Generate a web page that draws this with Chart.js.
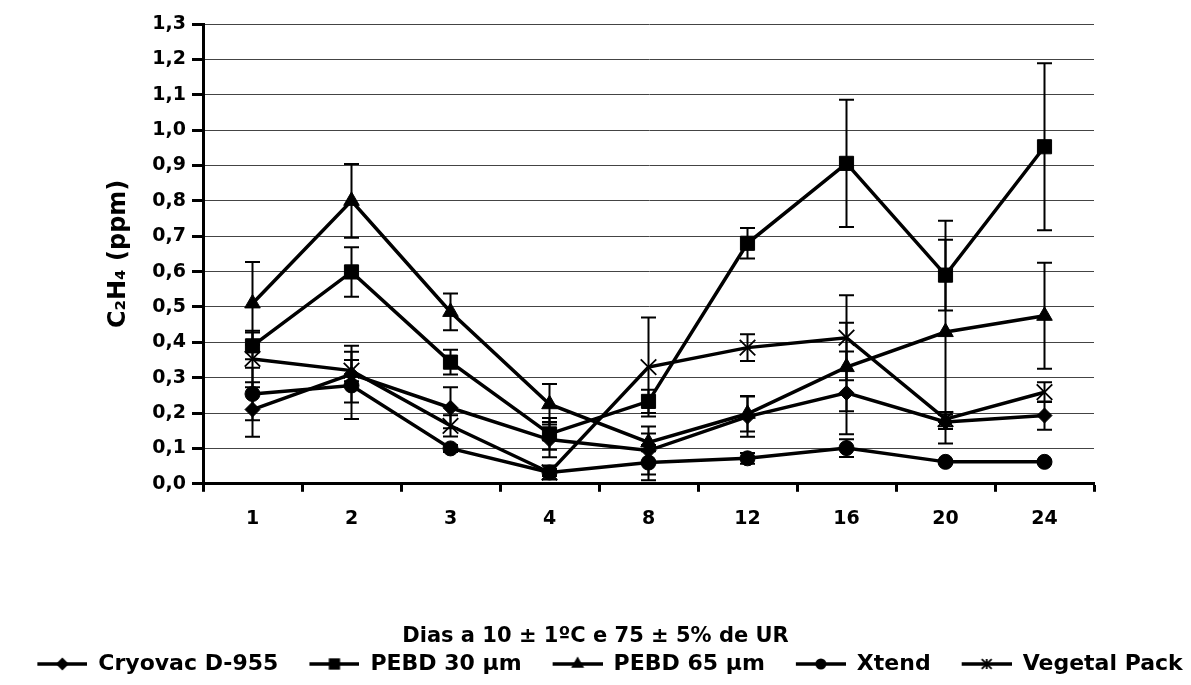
<!DOCTYPE html>
<html>
<head>
<meta charset="utf-8">
<script src="https://cdn.jsdelivr.net/npm/chart.js@4.4.1/dist/chart.umd.min.js"></script>
<style>
html,body{margin:0;padding:0;background:#fff;}
#wrap{width:1191px;height:685px;position:relative;}
</style>
</head>
<body>
<div id="wrap"><canvas id="c" width="1191" height="685"></canvas></div>
<script>
const categories = ['1','2','3','4','8','12','16','20','24'];
const seriesNames = ['Cryovac D-955','PEBD 30 µm','PEBD 65 µm','Xtend','Vegetal Pack'];
const cryovac    = [0.21, 0.31, 0.215, 0.125, 0.094, 0.19, 0.257, 0.175, 0.193];
const cryovacErr = [0.077, 0.08, 0.058, 0.05, 0.068, 0.057, 0.117, 0.02, 0.04];
const pebd30     = [0.39, 0.599, 0.344, 0.141, 0.233, 0.68, 0.906, 0.59, 0.953];
const pebd30Err  = [0.038, 0.07, 0.035, 0.045, 0.033, 0.043, 0.18, 0.1, 0.236];
const pebd65     = [0.51, 0.80, 0.486, 0.225, 0.117, 0.198, 0.33, 0.429, 0.475];
const pebd65Err  = [0.117, 0.104, 0.052, 0.057, 0.025, 0.05, 0.125, 0.315, 0.15];
const xtend      = [0.254, 0.278, 0.10, 0.032, 0.06, 0.072, 0.101, 0.062, 0.062];
const xtendErr   = [0.074, 0.095, 0.01, 0.01, 0.05, 0.015, 0.025, 0.005, 0.005];
const vegetal    = [0.353, 0.32, 0.164, 0.032, 0.33, 0.385, 0.413, 0.183, 0.259];
const vegetalErr = [0.08, 0.03, 0.03, 0.02, 0.14, 0.038, 0.12, 0.02, 0.028];
const yTitle = 'C\u2082H\u2084 (ppm)';
const xTitle = 'Dias a 10 \u00b1 1\u00baC e 75 \u00b1 5% de UR';

const values = [cryovac, pebd30, pebd65, xtend, vegetal];
const errors = [cryovacErr, pebd30Err, pebd65Err, xtendErr, vegetalErr];
const styles = ['rectRot','rect','triangle','circle','crossRot'];
const radii = [7.5, 10, 9, 7.5, 11];

const FONT = 'DejaVu Sans';
Chart.defaults.font.family = FONT;
Chart.defaults.font.weight = 'bold';
Chart.defaults.color = '#000';

function drawMarker(ctx, style, x, y, r) {
  ctx.beginPath();
  if (style === 'rectRot') {
    ctx.moveTo(x, y - r); ctx.lineTo(x + r, y); ctx.lineTo(x, y + r); ctx.lineTo(x - r, y); ctx.closePath(); ctx.fill();
  } else if (style === 'rect') {
    const s = r * Math.SQRT1_2; ctx.rect(x - s, y - s, 2 * s, 2 * s); ctx.fill();
  } else if (style === 'triangle') {
    ctx.moveTo(x, y - r); ctx.lineTo(x + r * 0.866, y + r * 0.5); ctx.lineTo(x - r * 0.866, y + r * 0.5); ctx.closePath(); ctx.fill();
  } else if (style === 'circle') {
    ctx.arc(x, y, r, 0, Math.PI * 2); ctx.fill();
  } else {
    const s = r * Math.SQRT1_2;
    ctx.lineWidth = 1.8;
    ctx.moveTo(x - s, y - s); ctx.lineTo(x + s, y + s);
    ctx.moveTo(x + s, y - s); ctx.lineTo(x - s, y + s);
    ctx.moveTo(x, y - s); ctx.lineTo(x, y + s);
    ctx.stroke();
  }
}

const ICON_W = 79, LINE_W = 50;
function makeIcon(style, r) {
  const c = document.createElement('canvas');
  c.width = ICON_W; c.height = 24;
  const ctx = c.getContext('2d');
  ctx.fillStyle = '#000'; ctx.strokeStyle = '#000';
  ctx.lineWidth = 3.5;
  ctx.beginPath(); ctx.moveTo(ICON_W - LINE_W, 12); ctx.lineTo(ICON_W, 12); ctx.stroke();
  drawMarker(ctx, style, ICON_W - LINE_W / 2, 12, r);
  return c;
}
const icons = styles.map((s, i) => makeIcon(s, [6.5, 8, 7.5, 5.5, 7][i]));

const errorBars = {
  id: 'errorBars',
  beforeDatasetsDraw(chart) {
    const ctx = chart.ctx;
    const ys = chart.scales.y;
    ctx.save();
    ctx.strokeStyle = '#000';
    ctx.lineWidth = 2;
    chart.data.datasets.forEach((ds, i) => {
      const meta = chart.getDatasetMeta(i);
      meta.data.forEach((pt, j) => {
        const v = ds.data[j], e = errors[i][j];
        const yt = ys.getPixelForValue(v + e), yb = ys.getPixelForValue(v - e);
        ctx.beginPath();
        ctx.moveTo(pt.x, yt); ctx.lineTo(pt.x, yb);
        ctx.moveTo(pt.x - 7.5, yt); ctx.lineTo(pt.x + 7.5, yt);
        ctx.moveTo(pt.x - 7.5, yb); ctx.lineTo(pt.x + 7.5, yb);
        ctx.stroke();
      });
    });
    ctx.restore();
  }
};

const datasets = seriesNames.map((name, i) => ({
  label: name,
  data: values[i],
  yAxisID: 'y',
  borderColor: '#000',
  backgroundColor: '#000',
  borderWidth: 3.5,
  pointStyle: styles[i],
  pointRadius: radii[i],
  pointHoverRadius: radii[i],
  pointBackgroundColor: '#000',
  pointBorderColor: '#000',
  pointBorderWidth: styles[i] === 'crossRot' ? 1.8 : 1,
  tension: 0,
  fill: false
}));

new Chart(document.getElementById('c'), {
  type: 'line',
  data: { labels: categories, datasets },
  plugins: [errorBars],
  options: {
    responsive: false,
    animation: false,
    devicePixelRatio: 1,
    layout: { padding: { top: 24, right: 0, left: 0, bottom: 0 } },
    plugins: {
      tooltip: { enabled: false },
      legend: {
        display: true,
        position: 'bottom',
        title: {
          display: true,
          text: xTitle,
          color: '#000',
          font: { family: FONT, size: 21, weight: 'bold' },
          padding: { top: 2, bottom: 0 }
        },
        labels: {
          usePointStyle: true,
          pointStyleWidth: ICON_W,
          padding: 2,
          color: '#000',
          font: { family: FONT, size: 22, weight: 'bold' },
          generateLabels(chart) {
            return chart.data.datasets.map((ds, i) => ({
              text: ds.label,
              pointStyle: icons[i],
              fillStyle: '#000',
              strokeStyle: '#000',
              lineWidth: 0,
              hidden: false,
              datasetIndex: i,
              fontColor: '#000'
            }));
          }
        }
      }
    },
    scales: {
      x: {
        type: 'category',
        offset: true,
        afterFit(scale) { scale.height = 140; },
        grid: {
          offset: true,
          drawOnChartArea: false,
          drawTicks: true,
          tickLength: 8,
          tickWidth: 3,
          tickColor: '#000'
        },
        border: { display: true, color: '#000', width: 3 },
        ticks: {
          padding: 16,
          color: '#000',
          font: { family: FONT, size: 19, weight: 'bold' },
          maxRotation: 0
        }
      },
      y: {
        position: 'left',
        min: 0,
        max: 1.3,
        afterFit(scale) { scale.width = 203; },
        ticks: {
          stepSize: 0.1,
          padding: 6,
          color: '#000',
          font: { family: FONT, size: 19, weight: 'bold' },
          callback: (v) => Number(v).toFixed(1).replace('.', ',')
        },
        grid: {
          color: '#444',
          lineWidth: 1,
          drawTicks: true,
          tickLength: 11,
          tickWidth: 3,
          tickColor: '#000'
        },
        border: { display: true, color: '#000', width: 3 },
        title: {
          display: true,
          text: yTitle,
          color: '#000',
          font: { family: FONT, size: 24, weight: 'bold' },
          padding: { top: 104, bottom: 0 }
        }
      },
      ySpace: {
        position: 'right',
        min: 0,
        max: 1.3,
        afterFit(scale) { scale.width = 97; },
        grid: { drawOnChartArea: false, drawTicks: false },
        border: { display: false },
        ticks: { display: false }
      }
    }
  }
});
</script>
</body>
</html>
